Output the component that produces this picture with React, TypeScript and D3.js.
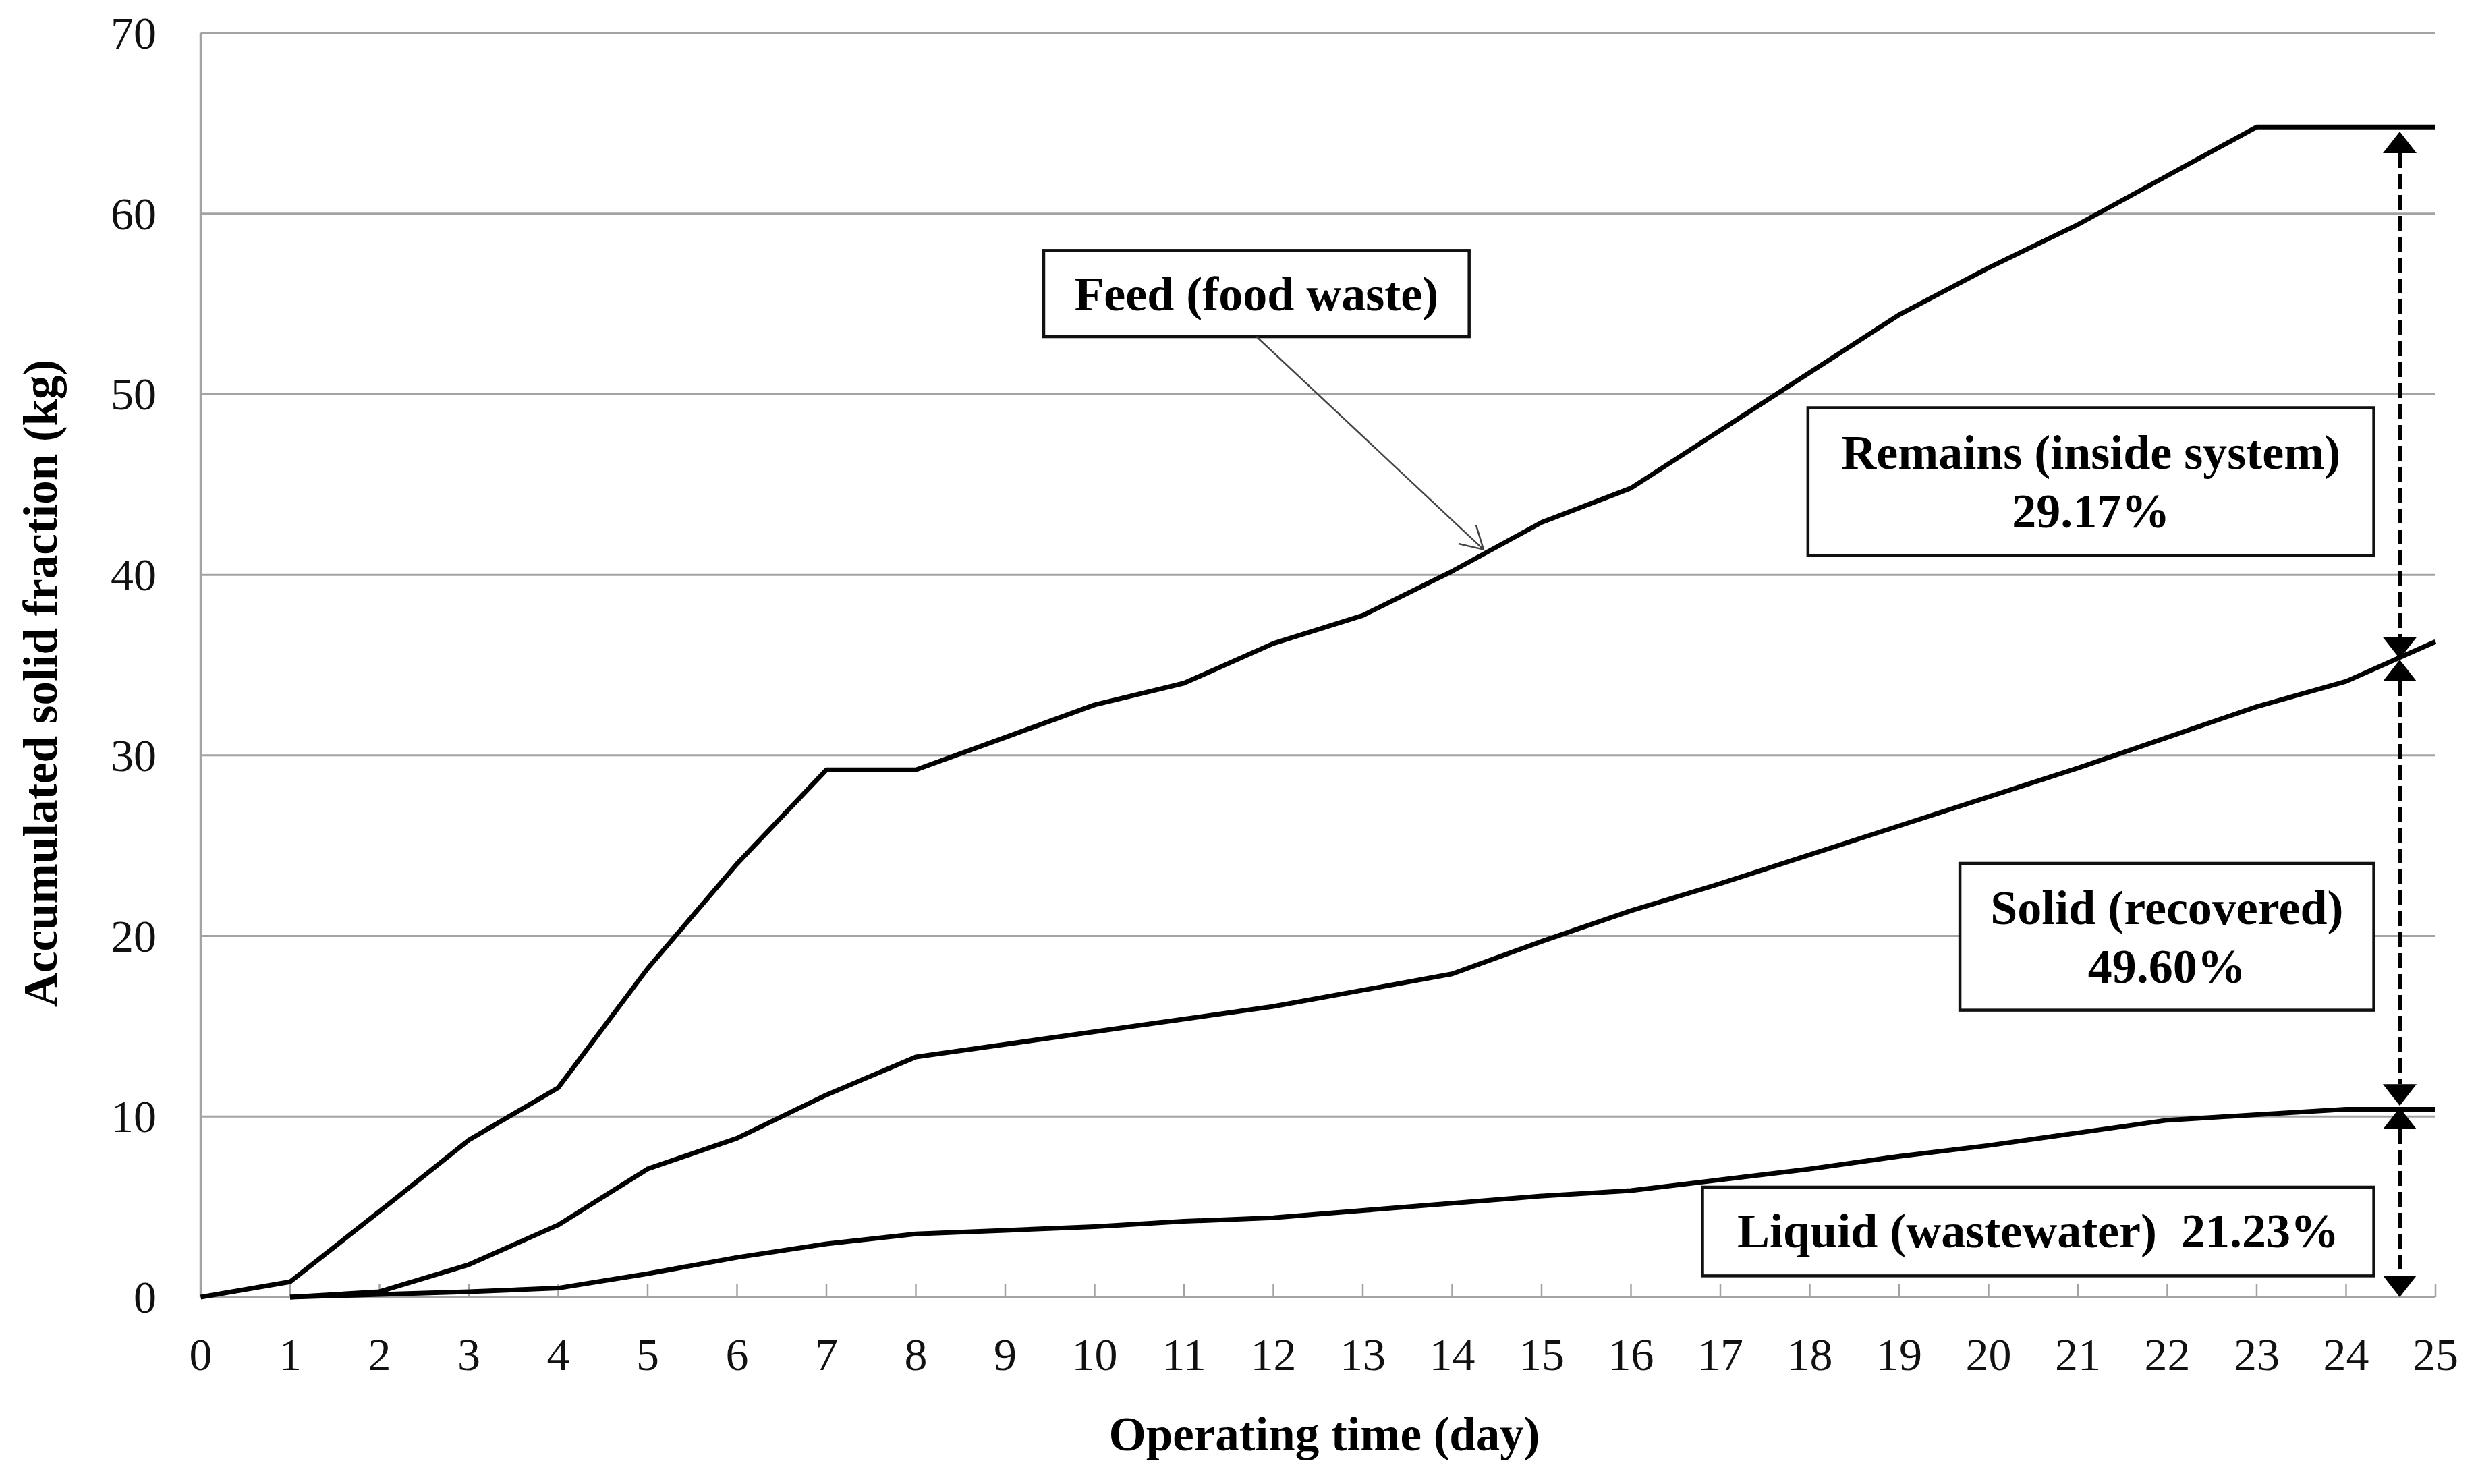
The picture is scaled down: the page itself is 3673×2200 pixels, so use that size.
import React from "react";
import * as d3 from "d3";

// ---------- data ----------
const days: number[] = [0, 1, 2, 3, 4, 5, 6, 7, 8, 9, 10, 11, 12, 13, 14, 15, 16, 17, 18, 19, 20, 21, 22, 23, 24, 25];
const feed: (number | null)[] = [0, 0.85, 4.75, 8.7, 11.6, 18.2, 24.0, 29.2, 29.2, 31.0, 32.8, 34.0, 36.2, 37.75, 40.2, 42.9, 44.8, 48.0, 51.2, 54.4, 57.0, 59.4, 62.1, 64.8, 64.8, 64.8];
const solid: (number | null)[] = [null, 0, 0.3, 1.8, 4.0, 7.1, 8.8, 11.2, 13.3, 14.0, 14.7, 15.4, 16.1, 17.0, 17.9, 19.7, 21.4, 22.9, 24.5, 26.1, 27.7, 29.3, 31.0, 32.7, 34.1, 36.3];
const liquid: (number | null)[] = [null, 0, 0.15, 0.3, 0.5, 1.3, 2.2, 2.95, 3.5, 3.7, 3.9, 4.2, 4.4, 4.8, 5.2, 5.6, 5.9, 6.5, 7.1, 7.8, 8.4, 9.1, 9.8, 10.1, 10.4, 10.4];
const series = [feed, solid, liquid];

const yTicks: number[] = [0, 10, 20, 30, 40, 50, 60, 70];
const xTickLabels: string[] = days.map(String);

const xTitle = "Operating time (day)";
const yTitle = "Accumulated solid fraction (kg)";

// annotation boxes (in data units: days / kg)
const boxes = [
  { lines: ["Feed (food waste)"], x0: 9.43, x1: 14.19, y0: 57.96, y1: 53.19 },
  { lines: ["Remains (inside system)", "29.17%"], x0: 17.98, x1: 24.31, y0: 49.25, y1: 41.06 },
  { lines: ["Solid (recovered)", "49.60%"], x0: 19.68, x1: 24.31, y0: 24.02, y1: 15.89 },
  { lines: ["Liquid (wastewater)  21.23%"], x0: 16.8, x1: 24.31, y0: 6.09, y1: 1.18 },
];

// pointer from feed label to the feed curve
const pointerTip = { day: 14.35, kg: 41.4 };

// dashed partition arrows at this day
const arrowDay = 24.6;
const partitions = [
  { top: 64.55, bottom: 35.35 },
  { top: 35.3, bottom: 10.6 },
  { top: 10.5, bottom: 0 },
];

// ---------- layout ----------
const W = 3673;
const H = 2200;
const plot = { left: 297.5, right: 3610, top: 49, bottom: 1923 };
const FONT = "'Liberation Serif', 'Times New Roman', serif";
const GRID = "#a3a3a3";

export default function App() {
  const x = d3.scaleLinear().domain([0, 25]).range([plot.left, plot.right]);
  const y = d3.scaleLinear().domain([0, 70]).range([plot.bottom, plot.top]);

  const line = d3
    .line<number | null>()
    .defined((v) => v !== null)
    .x((_, i) => x(days[i]))
    .y((v) => y(v as number));

  const ax = x(arrowDay);
  const headW = 25;
  const headH = 32;

  // pointer geometry
  const fb = boxes[0];
  const px0 = (x(fb.x0) + x(fb.x1)) / 2;
  const py0 = y(fb.y1);
  const px1 = x(pointerTip.day);
  const py1 = y(pointerTip.kg);
  const ang = Math.atan2(py0 - py1, px0 - px1);
  const wl = 38;
  const wa = (30 * Math.PI) / 180;
  const w1 = [px1 + wl * Math.cos(ang - wa), py1 + wl * Math.sin(ang - wa)];
  const w2 = [px1 + wl * Math.cos(ang + wa), py1 + wl * Math.sin(ang + wa)];

  const lineOffsets = [[89], [90, 177]];

  return (
    <svg
      width={W}
      height={H}
      viewBox={`0 0 ${W} ${H}`}
      style={{ position: "absolute", left: 0, top: 0, display: "block", background: "#fff" }}
    >
      <rect x={0} y={0} width={W} height={H} fill="#fff" />

      {/* gridlines */}
      {yTicks
        .filter((t) => t > 0)
        .map((t) => (
          <line key={"g" + t} x1={plot.left} x2={plot.right} y1={y(t)} y2={y(t)} stroke={GRID} strokeWidth={3} />
        ))}

      {/* axes */}
      <line x1={plot.left} x2={plot.left} y1={plot.top} y2={plot.bottom} stroke={GRID} strokeWidth={3.5} />
      <line x1={plot.left} x2={plot.right} y1={y(0)} y2={y(0)} stroke={GRID} strokeWidth={3.5} />
      {days
        .filter((d) => d > 0)
        .map((d) => (
          <line key={"t" + d} x1={x(d)} x2={x(d)} y1={y(0)} y2={y(0) - 20} stroke={GRID} strokeWidth={2.5} />
        ))}

      {/* tick labels */}
      {yTicks.map((t) => (
        <text
          key={"yl" + t}
          x={232}
          y={y(t)}
          textAnchor="end"
          dominantBaseline="central"
          fontFamily={FONT}
          fontSize={68}
          fill="#111"
        >
          {t}
        </text>
      ))}
      {days.map((d, i) => (
        <text key={"xl" + d} x={x(d)} y={2031} textAnchor="middle" fontFamily={FONT} fontSize={68} fill="#111">
          {xTickLabels[i]}
        </text>
      ))}

      {/* axis titles */}
      <text x={1963} y={2150} textAnchor="middle" fontFamily={FONT} fontSize={71} fontWeight="bold" fill="#000">
        {xTitle}
      </text>
      <text
        transform={`translate(84, 1013) rotate(-90)`}
        textAnchor="middle"
        fontFamily={FONT}
        fontSize={71}
        fontWeight="bold"
        fill="#000"
      >
        {yTitle}
      </text>

      {/* data lines */}
      {series.map((s, i) => (
        <path key={"s" + i} d={line(s) || ""} fill="none" stroke="#000" strokeWidth={7} strokeLinejoin="round" />
      ))}

      {/* annotation boxes */}
      {boxes.map((b, i) => {
        const bx = x(b.x0);
        const by = y(b.y0);
        const bw = x(b.x1) - x(b.x0);
        const bh = y(b.y1) - y(b.y0);
        const offs = lineOffsets[b.lines.length - 1];
        return (
          <g key={"b" + i}>
            <rect x={bx} y={by} width={bw} height={bh} fill="#fff" stroke="#111" strokeWidth={4.5} />
            {b.lines.map((t, j) => (
              <text
                key={j}
                x={bx + bw / 2}
                y={by + offs[j]}
                textAnchor="middle"
                fontFamily={FONT}
                fontSize={72}
                fontWeight="bold"
                fill="#000"
                style={{ whiteSpace: "pre" }}
              >
                {t}
              </text>
            ))}
          </g>
        );
      })}

      {/* pointer */}
      <line x1={px0} y1={py0} x2={px1} y2={py1} stroke="#444" strokeWidth={2.5} />
      <polyline
        points={`${w1[0]},${w1[1]} ${px1},${py1} ${w2[0]},${w2[1]}`}
        fill="none"
        stroke="#444"
        strokeWidth={2.5}
      />

      {/* partition arrows */}
      {partitions.map((p, i) => {
        const yt = y(p.top);
        const yb = y(p.bottom);
        return (
          <g key={"p" + i}>
            <line
              x1={ax}
              x2={ax}
              y1={yt + headH}
              y2={yb - headH}
              stroke="#000"
              strokeWidth={6}
              strokeDasharray="22 9"
            />
            <polygon points={`${ax},${yt} ${ax - headW},${yt + headH} ${ax + headW},${yt + headH}`} fill="#000" />
            <polygon points={`${ax},${yb} ${ax - headW},${yb - headH} ${ax + headW},${yb - headH}`} fill="#000" />
          </g>
        );
      })}
    </svg>
  );
}
